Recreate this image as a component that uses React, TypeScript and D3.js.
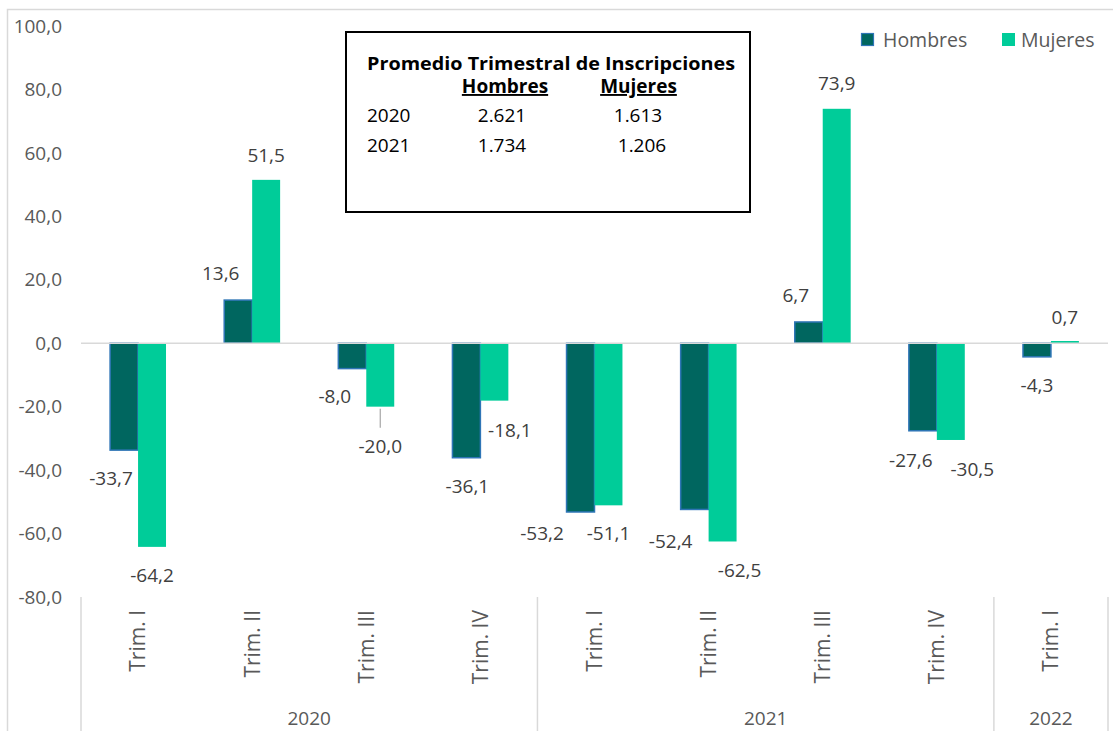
import React from "react";
import * as d3 from "d3";

// trimestres
const quarters = ["Trim. I", "Trim. II", "Trim. III", "Trim. IV", "Trim. I", "Trim. II", "Trim. III", "Trim. IV", "Trim. I"];
const yearGroups = ["2020", "2021", "2022"];
const yearSizes = [4, 4, 1];

// variación % por trimestre
const hombres = [-33.7, 13.6, -8.0, -36.1, -53.2, -52.4, 6.7, -27.6, -4.3];
const mujeres = [-64.2, 51.5, -20.0, -18.1, -51.1, -62.5, 73.9, -30.5, 0.7];

const yTicks = [-80, -60, -40, -20, 0, 20, 40, 60, 80, 100];

// cuadro de promedios
const avgYears = ["2020", "2021"];
const avgHombres = ["2.621", "1.734"];
const avgMujeres = ["1.613", "1.206"];

// ajustes manuales de etiquetas (como en el original)
const hLabelDx = [-13, -17.5, -17.5, 1, -38.5, -24, -13, -12, 0];
const hLabelDy = [28, -27, 28, 29, 21, 32, -27, 30, 28];
const mLabelDx = [0, 0, 0, 15.5, 0, 17, 0, 21.5, 0];
const mLabelDy = [28, -25, 40, 30, 28, 29, -25, 29, -24];

const W = 1113;
const H = 731;
const FONT = "'Open Sans', sans-serif";
const FS = 19;
const C_H = "#00665F";
const C_M = "#00CC99";
const GRAY = "#D9D9D9";

const fmt = (v: number) => v.toFixed(1).replace(".", ",");

export default function App() {
  const left = 81;
  const right = 1108;
  const x0 = d3
    .scaleBand<number>()
    .domain(d3.range(quarters.length))
    .range([left, right])
    .paddingInner(0.51)
    .paddingOuter(0.255);
  const x1 = d3.scaleBand<string>().domain(["h", "m"]).range([0, x0.bandwidth()]);
  const y = d3.scaleLinear().domain([-80, 100]).range([597, 26]);
  const step = x0.step();

  const series = [
    { key: "h", vals: hombres, fill: C_H, stroke: "#2E75B6", dx: hLabelDx, dy: hLabelDy },
    { key: "m", vals: mujeres, fill: C_M, stroke: "none", dx: mLabelDx, dy: mLabelDy },
  ];

  // separadores de años
  const bounds = [0];
  yearSizes.forEach((n, i) => bounds.push(bounds[i] + n));

  return (
    <svg width={W} height={H} style={{ position: "absolute", left: 0, top: 0 }} fontFamily={FONT}>
      <rect x={0} y={0} width={W} height={H} fill="#fff" />
      <rect x={7.5} y={9.5} width={W + 20} height={H + 20} fill="none" stroke={GRAY} strokeWidth={1.5} />

      {/* eje y */}
      {yTicks.map((t) => (
        <text key={t} x={62} y={y(t)} dy="0.35em" textAnchor="end" fontSize={FS} fill="#595959">
          {fmt(t)}
        </text>
      ))}

      {/* barras */}
      {series.map((s) =>
        s.vals.map((v, i) => {
          const bx = (x0(i) as number) + (x1(s.key) as number);
          const y0 = y(0);
          const yv = y(v);
          return (
            <rect
              key={s.key + i}
              x={bx}
              y={Math.min(y0, yv)}
              width={x1.bandwidth()}
              height={Math.abs(yv - y0)}
              fill={s.fill}
              stroke={s.stroke}
              strokeWidth={1.5}
            />
          );
        })
      )}

      {/* línea cero */}
      <line x1={left} x2={right} y1={y(0)} y2={y(0)} stroke={GRAY} strokeWidth={1.5} />

      {/* etiquetas de datos */}
      {series.map((s) =>
        s.vals.map((v, i) => {
          const cx = (x0(i) as number) + (x1(s.key) as number) + x1.bandwidth() / 2;
          const ly = y(v) + s.dy[i];
          const leader = s.key === "m" && s.dy[i] > 35;
          return (
            <g key={"l" + s.key + i}>
              {leader && (
                <line x1={cx} x2={cx} y1={y(v) + 2} y2={ly - 19} stroke="#A6A6A6" strokeWidth={1.2} />
              )}
              <text x={cx + s.dx[i]} y={ly} dy="0.35em" textAnchor="middle" fontSize={FS} fill="#404040">
                {fmt(v)}
              </text>
            </g>
          );
        })
      )}

      {/* eje de categorías */}
      {bounds.map((b, i) => (
        <line key={"b" + i} x1={left + b * step} x2={left + b * step} y1={597} y2={H} stroke={GRAY} strokeWidth={1.5} />
      ))}
      {quarters.map((q, i) => {
        const cx = (x0(i) as number) + x0.bandwidth() / 2;
        return (
          <text
            key={"q" + i}
            transform={`translate(${cx},610) rotate(-90)`}
            dy="0.35em"
            textAnchor="end"
            fontSize={21}
            fill="#595959"
          >
            {q}
          </text>
        );
      })}
      {yearGroups.map((g, i) => {
        const cx = left + ((bounds[i] + bounds[i + 1]) / 2) * step;
        return (
          <text key={g} x={cx} y={718} dy="0.35em" textAnchor="middle" fontSize={FS} fill="#595959">
            {g}
          </text>
        );
      })}

      {/* leyenda */}
      <rect x={861.5} y={33.5} width={12} height={12} fill={C_H} stroke="#2E75B6" strokeWidth={1.2} />
      <text x={883} y={40} dy="0.35em" fontSize={19.5} fill="#595959">Hombres</text>
      <rect x={1002} y={33} width={13} height={13} fill={C_M} />
      <text x={1021} y={40} dy="0.35em" fontSize={19.5} fill="#595959">Mujeres</text>

      {/* cuadro de promedios */}
      <rect x={346} y={32} width={404} height={180} fill="#fff" stroke="#000" strokeWidth={2} />
      <text x={367} y={70} fontSize={18.5} fontWeight="bold" fill="#000" textLength={368} lengthAdjust="spacingAndGlyphs">
        Promedio Trimestral de Inscripciones
      </text>
      <text x={505} y={93} textAnchor="middle" fontSize={19} fontWeight="bold" fill="#000" textDecoration="underline">
        Hombres
      </text>
      <text x={638.5} y={93} textAnchor="middle" fontSize={19} fontWeight="bold" fill="#000" textDecoration="underline">
        Mujeres
      </text>
      {avgYears.map((yr, i) => (
        <g key={yr} fontSize={19} fill="#000">
          <text x={367} y={122 + i * 30}>{yr}</text>
          <text x={502} y={122 + i * 30} textAnchor="middle">{avgHombres[i]}</text>
          <text x={638 + i * 4} y={122 + i * 30} textAnchor="middle">{avgMujeres[i]}</text>
        </g>
      ))}
    </svg>
  );
}
